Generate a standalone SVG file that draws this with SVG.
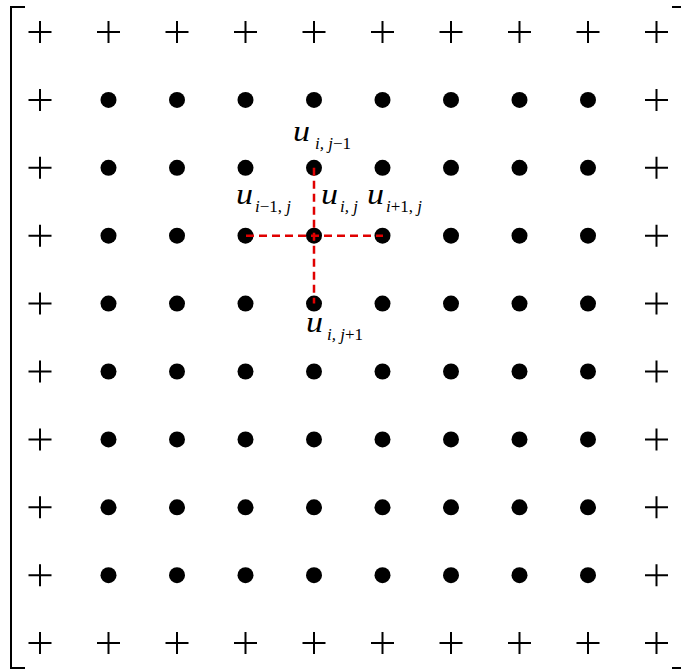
<svg xmlns="http://www.w3.org/2000/svg" width="681" height="671" viewBox="0 0 681 671">
<style>
.p{stroke:#000;stroke-width:2;fill:none}
.d{fill:#000}
.br{stroke:#000;stroke-width:2;fill:none}
.red{stroke:#e00000;stroke-width:2.5;stroke-dasharray:8,5;fill:none}
.u{font-family:"Liberation Serif","Times New Roman",serif;font-style:italic;font-size:30px;fill:#000}
.s{font-family:"Liberation Serif","Times New Roman",serif;font-style:italic;font-size:17px;fill:#000}
.n{font-style:normal}
</style>
<defs>
<path id="plus" class="p" d="M-11.5,0H11.5M0,-11V11"/>
<circle id="dot" class="d" r="8"/>
</defs>
<rect width="681" height="671" fill="#fff"/>
<g id="brackets">
<path class="br" d="M25,7H11V668H25"/>
<path class="br" d="M672,7H681M672,668H681"/>
</g>
<g id="boundary">
<use href="#plus" x="40" y="32"/><use href="#plus" x="108.5" y="32"/><use href="#plus" x="177" y="32"/><use href="#plus" x="245.5" y="32"/><use href="#plus" x="314" y="32"/><use href="#plus" x="382.5" y="32"/><use href="#plus" x="451" y="32"/><use href="#plus" x="519.5" y="32"/><use href="#plus" x="588" y="32"/><use href="#plus" x="656.5" y="32"/>
<use href="#plus" x="40" y="643"/><use href="#plus" x="108.5" y="643"/><use href="#plus" x="177" y="643"/><use href="#plus" x="245.5" y="643"/><use href="#plus" x="314" y="643"/><use href="#plus" x="382.5" y="643"/><use href="#plus" x="451" y="643"/><use href="#plus" x="519.5" y="643"/><use href="#plus" x="588" y="643"/><use href="#plus" x="656.5" y="643"/>
<use href="#plus" x="40" y="99.9"/><use href="#plus" x="40" y="167.8"/><use href="#plus" x="40" y="235.7"/><use href="#plus" x="40" y="303.6"/><use href="#plus" x="40" y="371.5"/><use href="#plus" x="40" y="439.4"/><use href="#plus" x="40" y="507.3"/><use href="#plus" x="40" y="575.2"/>
<use href="#plus" x="656.5" y="99.9"/><use href="#plus" x="656.5" y="167.8"/><use href="#plus" x="656.5" y="235.7"/><use href="#plus" x="656.5" y="303.6"/><use href="#plus" x="656.5" y="371.5"/><use href="#plus" x="656.5" y="439.4"/><use href="#plus" x="656.5" y="507.3"/><use href="#plus" x="656.5" y="575.2"/>
</g>
<g id="interior">
<use href="#dot" x="108.5" y="99.9"/><use href="#dot" x="177" y="99.9"/><use href="#dot" x="245.5" y="99.9"/><use href="#dot" x="314" y="99.9"/><use href="#dot" x="382.5" y="99.9"/><use href="#dot" x="451" y="99.9"/><use href="#dot" x="519.5" y="99.9"/><use href="#dot" x="588" y="99.9"/>
<use href="#dot" x="108.5" y="167.8"/><use href="#dot" x="177" y="167.8"/><use href="#dot" x="245.5" y="167.8"/><use href="#dot" x="314" y="167.8"/><use href="#dot" x="382.5" y="167.8"/><use href="#dot" x="451" y="167.8"/><use href="#dot" x="519.5" y="167.8"/><use href="#dot" x="588" y="167.8"/>
<use href="#dot" x="108.5" y="235.7"/><use href="#dot" x="177" y="235.7"/><use href="#dot" x="245.5" y="235.7"/><use href="#dot" x="314" y="235.7"/><use href="#dot" x="382.5" y="235.7"/><use href="#dot" x="451" y="235.7"/><use href="#dot" x="519.5" y="235.7"/><use href="#dot" x="588" y="235.7"/>
<use href="#dot" x="108.5" y="303.6"/><use href="#dot" x="177" y="303.6"/><use href="#dot" x="245.5" y="303.6"/><use href="#dot" x="314" y="303.6"/><use href="#dot" x="382.5" y="303.6"/><use href="#dot" x="451" y="303.6"/><use href="#dot" x="519.5" y="303.6"/><use href="#dot" x="588" y="303.6"/>
<use href="#dot" x="108.5" y="371.5"/><use href="#dot" x="177" y="371.5"/><use href="#dot" x="245.5" y="371.5"/><use href="#dot" x="314" y="371.5"/><use href="#dot" x="382.5" y="371.5"/><use href="#dot" x="451" y="371.5"/><use href="#dot" x="519.5" y="371.5"/><use href="#dot" x="588" y="371.5"/>
<use href="#dot" x="108.5" y="439.4"/><use href="#dot" x="177" y="439.4"/><use href="#dot" x="245.5" y="439.4"/><use href="#dot" x="314" y="439.4"/><use href="#dot" x="382.5" y="439.4"/><use href="#dot" x="451" y="439.4"/><use href="#dot" x="519.5" y="439.4"/><use href="#dot" x="588" y="439.4"/>
<use href="#dot" x="108.5" y="507.3"/><use href="#dot" x="177" y="507.3"/><use href="#dot" x="245.5" y="507.3"/><use href="#dot" x="314" y="507.3"/><use href="#dot" x="382.5" y="507.3"/><use href="#dot" x="451" y="507.3"/><use href="#dot" x="519.5" y="507.3"/><use href="#dot" x="588" y="507.3"/>
<use href="#dot" x="108.5" y="575.2"/><use href="#dot" x="177" y="575.2"/><use href="#dot" x="245.5" y="575.2"/><use href="#dot" x="314" y="575.2"/><use href="#dot" x="382.5" y="575.2"/><use href="#dot" x="451" y="575.2"/><use href="#dot" x="519.5" y="575.2"/><use href="#dot" x="588" y="575.2"/>
</g>
<g id="connectors">
<path class="red" d="M246,235.7H383"/>
<path class="red" d="M314,167.8V303.6"/>
</g>
<g id="labels">
<g id="lab-top"><text class="u" x="293" y="141" textLength="17" lengthAdjust="spacingAndGlyphs">u</text><text class="s" x="315" y="149">i, j<tspan class="n">−1</tspan></text></g>
<g id="lab-left"><text class="u" x="236" y="204" textLength="17" lengthAdjust="spacingAndGlyphs">u</text><text class="s" x="255" y="212">i<tspan class="n">−1, </tspan>j</text></g>
<g id="lab-center"><text class="u" x="321" y="204" textLength="17" lengthAdjust="spacingAndGlyphs">u</text><text class="s" x="340" y="212">i, j</text></g>
<g id="lab-right"><text class="u" x="367" y="204" textLength="17" lengthAdjust="spacingAndGlyphs">u</text><text class="s" x="386" y="212">i<tspan class="n">+1, </tspan>j</text></g>
<g id="lab-bottom"><text class="u" x="306" y="332" textLength="17" lengthAdjust="spacingAndGlyphs">u</text><text class="s" x="327" y="340">i, j<tspan class="n">+1</tspan></text></g>
</g>
</svg>
